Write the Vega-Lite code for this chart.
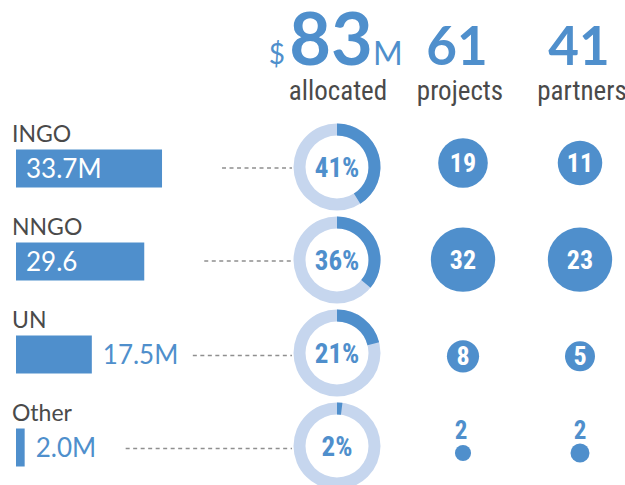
{
  "$schema": "https://vega.github.io/schema/vega-lite/v6.json",
  "width": 625,
  "height": 485,
  "padding": 0,
  "autosize": {"type": "none"},
  "background": "white",
  "config": {"view": {"stroke": null}},
  "datasets": {
    "orgs": [
      {"org": "INGO", "amount": 33.7, "amountLabel": "33.7M", "pct": 41, "pctLabel": "41%", "projects": 19, "partners": 11},
      {"org": "NNGO", "amount": 29.6, "amountLabel": "29.6", "pct": 36, "pctLabel": "36%", "projects": 32, "partners": 23},
      {"org": "UN", "amount": 17.5, "amountLabel": "17.5M", "pct": 21, "pctLabel": "21%", "projects": 8, "partners": 5},
      {"org": "Other", "amount": 2.0, "amountLabel": "2.0M", "pct": 2, "pctLabel": "2%", "projects": 2, "partners": 2}
    ],
    "headers": [
      {"col": "allocated", "total": "83"},
      {"col": "projects", "total": "61"},
      {"col": "partners", "total": "41"}
    ]
  },
  "resolve": {"scale": {"x": "independent", "y": "independent", "size": "independent", "theta": "independent"}},
  "layer": [
    {
      "data": {"name": "orgs"},
      "mark": {"type": "text", "align": "left", "baseline": "alphabetic", "dx": -4, "dy": -25, "font": "Lato", "fontSize": 23, "color": "#4a4a4a"},
      "encoding": {
        "x": {"datum": 0, "type": "quantitative", "scale": {"domain": [0, 100], "range": [16, 449.3], "nice": false}, "axis": null},
        "y": {"field": "org", "type": "nominal", "scale": {"type": "point", "domain": ["header", "INGO", "NNGO", "UN", "Other"], "range": [74, 446], "padding": 0}, "axis": null},
        "text": {"field": "org"}
      }
    },
    {
      "data": {"name": "orgs"},
      "mark": {"type": "bar", "height": 38, "color": "#4f8fcc", "yOffset": 1.5},
      "encoding": {
        "x": {"field": "amount", "type": "quantitative", "scale": {"domain": [0, 100], "range": [16, 449.3], "nice": false}, "axis": null},
        "y": {"field": "org", "type": "nominal", "scale": {"type": "point", "domain": ["header", "INGO", "NNGO", "UN", "Other"], "range": [74, 446], "padding": 0}, "axis": null}
      }
    },
    {
      "data": {"name": "orgs"},
      "transform": [{"filter": {"field": "org", "oneOf": ["INGO", "NNGO"]}}],
      "mark": {"type": "text", "align": "left", "baseline": "alphabetic", "dx": 10, "dy": 11, "font": "Lato", "fontSize": 26, "color": "white"},
      "encoding": {
        "x": {"datum": 0, "type": "quantitative", "scale": {"domain": [0, 100], "range": [16, 449.3], "nice": false}, "axis": null},
        "y": {"field": "org", "type": "nominal", "scale": {"type": "point", "domain": ["header", "INGO", "NNGO", "UN", "Other"], "range": [74, 446], "padding": 0}, "axis": null},
        "text": {"field": "amountLabel"}
      }
    },
    {
      "data": {"name": "orgs"},
      "transform": [{"filter": {"field": "org", "oneOf": ["UN", "Other"]}}],
      "mark": {"type": "text", "align": "left", "baseline": "alphabetic", "dx": 11, "dy": 11, "font": "Lato", "fontSize": 26, "color": "#4f8fcc"},
      "encoding": {
        "x": {"field": "amount", "type": "quantitative", "scale": {"domain": [0, 100], "range": [16, 449.3], "nice": false}, "axis": null},
        "y": {"field": "org", "type": "nominal", "scale": {"type": "point", "domain": ["header", "INGO", "NNGO", "UN", "Other"], "range": [74, 446], "padding": 0}, "axis": null},
        "text": {"field": "amountLabel"}
      }
    },
    {
      "data": {"name": "orgs"},
      "transform": [{"filter": {"field": "org", "oneOf": ["INGO", "NNGO"]}}],
      "mark": {"type": "rule", "color": "#8f8f8f", "strokeWidth": 1.3, "strokeDash": [4, 3.5], "xOffset": 60, "yOffset": 1},
      "encoding": {
        "x": {"field": "amount", "type": "quantitative", "scale": {"domain": [0, 100], "range": [16, 449.3], "nice": false}, "axis": null},
        "x2": {"value": 292},
        "y": {"field": "org", "type": "nominal", "scale": {"type": "point", "domain": ["header", "INGO", "NNGO", "UN", "Other"], "range": [74, 446], "padding": 0}, "axis": null}
      }
    },
    {
      "data": {"name": "orgs"},
      "transform": [{"filter": {"field": "org", "oneOf": ["UN", "Other"]}}],
      "mark": {"type": "rule", "color": "#8f8f8f", "strokeWidth": 1.3, "strokeDash": [4, 3.5], "xOffset": 101, "yOffset": 2.5},
      "encoding": {
        "x": {"field": "amount", "type": "quantitative", "scale": {"domain": [0, 100], "range": [16, 449.3], "nice": false}, "axis": null},
        "x2": {"value": 292},
        "y": {"field": "org", "type": "nominal", "scale": {"type": "point", "domain": ["header", "INGO", "NNGO", "UN", "Other"], "range": [74, 446], "padding": 0}, "axis": null}
      }
    },
    {
      "data": {"name": "orgs"},
      "mark": {"type": "arc", "innerRadius": 31.5, "outerRadius": 43.5, "theta": 0, "theta2": 6.2832, "color": "#c6d6ee"},
      "encoding": {
        "x": {"datum": "allocated", "type": "nominal", "scale": {"type": "point", "domain": ["allocated", "projects", "partners"], "range": [337, 581], "padding": 0}, "axis": null},
        "y": {"field": "org", "type": "nominal", "scale": {"type": "point", "domain": ["header", "INGO", "NNGO", "UN", "Other"], "range": [74, 446], "padding": 0}, "axis": null}
      }
    },
    {
      "data": {"name": "orgs"},
      "mark": {"type": "arc", "innerRadius": 31.5, "outerRadius": 43.5, "color": "#4f8fcc"},
      "encoding": {
        "x": {"datum": "allocated", "type": "nominal", "scale": {"type": "point", "domain": ["allocated", "projects", "partners"], "range": [337, 581], "padding": 0}, "axis": null},
        "y": {"field": "org", "type": "nominal", "scale": {"type": "point", "domain": ["header", "INGO", "NNGO", "UN", "Other"], "range": [74, 446], "padding": 0}, "axis": null},
        "theta": {"field": "pct", "type": "quantitative", "stack": null, "scale": {"domain": [0, 100], "range": [0, 6.2832]}},
        "theta2": {"datum": 0}
      }
    },
    {
      "data": {"name": "orgs"},
      "mark": {"type": "text", "align": "center", "baseline": "alphabetic", "dy": 10, "font": "Noto Sans Condensed, Roboto Condensed, Roboto, sans-serif", "fontWeight": "bold", "fontSize": 27, "color": "#4f8fcc"},
      "encoding": {
        "x": {"datum": "allocated", "type": "nominal", "scale": {"type": "point", "domain": ["allocated", "projects", "partners"], "range": [337, 581], "padding": 0}, "axis": null},
        "y": {"field": "org", "type": "nominal", "scale": {"type": "point", "domain": ["header", "INGO", "NNGO", "UN", "Other"], "range": [74, 446], "padding": 0}, "axis": null},
        "text": {"field": "pctLabel"}
      }
    },
    {
      "data": {"name": "headers"},
      "transform": [{"filter": {"field": "col", "equal": "allocated"}}],
      "mark": {"type": "text", "align": "center", "baseline": "alphabetic", "dx": -6, "dy": -9, "font": "Lato", "fontWeight": "bold", "fontSize": 72, "color": "#4f8fcc"},
      "encoding": {
        "x": {"field": "col", "type": "nominal", "scale": {"type": "point", "domain": ["allocated", "projects", "partners"], "range": [337, 581], "padding": 0}, "axis": null},
        "y": {"datum": "header", "type": "nominal", "scale": {"type": "point", "domain": ["header", "INGO", "NNGO", "UN", "Other"], "range": [74, 446], "padding": 0}, "axis": null},
        "text": {"field": "total"}
      }
    },
    {
      "data": {"name": "headers"},
      "transform": [{"filter": {"field": "col", "oneOf": ["projects", "partners"]}}],
      "mark": {"type": "text", "align": "center", "baseline": "alphabetic", "dx": -2, "dy": -9, "font": "Lato", "fontWeight": "bold", "fontSize": 53, "color": "#4f8fcc"},
      "encoding": {
        "x": {"field": "col", "type": "nominal", "scale": {"type": "point", "domain": ["allocated", "projects", "partners"], "range": [337, 581], "padding": 0}, "axis": null},
        "y": {"datum": "header", "type": "nominal", "scale": {"type": "point", "domain": ["header", "INGO", "NNGO", "UN", "Other"], "range": [74, 446], "padding": 0}, "axis": null},
        "text": {"field": "total"}
      }
    },
    {
      "data": {"name": "headers"},
      "transform": [{"filter": {"field": "col", "equal": "allocated"}}],
      "mark": {"type": "text", "align": "right", "baseline": "alphabetic", "dx": -52, "dy": -10, "font": "Lato", "fontSize": 28, "color": "#4f8fcc", "text": "$"},
      "encoding": {
        "x": {"field": "col", "type": "nominal", "scale": {"type": "point", "domain": ["allocated", "projects", "partners"], "range": [337, 581], "padding": 0}, "axis": null},
        "y": {"datum": "header", "type": "nominal", "scale": {"type": "point", "domain": ["header", "INGO", "NNGO", "UN", "Other"], "range": [74, 446], "padding": 0}, "axis": null}
      }
    },
    {
      "data": {"name": "headers"},
      "transform": [{"filter": {"field": "col", "equal": "allocated"}}],
      "mark": {"type": "text", "align": "left", "baseline": "alphabetic", "dx": 36, "dy": -9, "font": "Lato", "fontSize": 32, "color": "#4f8fcc", "text": "M"},
      "encoding": {
        "x": {"field": "col", "type": "nominal", "scale": {"type": "point", "domain": ["allocated", "projects", "partners"], "range": [337, 581], "padding": 0}, "axis": null},
        "y": {"datum": "header", "type": "nominal", "scale": {"type": "point", "domain": ["header", "INGO", "NNGO", "UN", "Other"], "range": [74, 446], "padding": 0}, "axis": null}
      }
    },
    {
      "data": {"name": "headers"},
      "mark": {"type": "text", "align": "center", "baseline": "alphabetic", "dx": 1, "dy": 26, "font": "Noto Sans Condensed, Roboto Condensed, Roboto, sans-serif", "fontSize": 27, "color": "#4a4a4a"},
      "encoding": {
        "x": {"field": "col", "type": "nominal", "scale": {"type": "point", "domain": ["allocated", "projects", "partners"], "range": [337, 581], "padding": 0}, "axis": null},
        "y": {"datum": "header", "type": "nominal", "scale": {"type": "point", "domain": ["header", "INGO", "NNGO", "UN", "Other"], "range": [74, 446], "padding": 0}, "axis": null},
        "text": {"field": "col"}
      }
    },
    {
      "data": {"name": "orgs"},
      "mark": {"type": "circle", "opacity": 1, "color": "#4f8fcc", "xOffset": 4},
      "encoding": {
        "x": {"datum": "projects", "type": "nominal", "scale": {"type": "point", "domain": ["allocated", "projects", "partners"], "range": [337, 581], "padding": 0}, "axis": null},
        "y": {"field": "org", "type": "nominal", "scale": {"type": "point", "domain": ["INGO", "NNGO", "UN", "Other"], "range": [163, 453], "padding": 0}, "axis": null},
        "size": {"field": "projects", "type": "quantitative", "scale": {"domain": [0, 32], "range": [0, 4140], "zero": true}, "legend": null}
      }
    },
    {
      "data": {"name": "orgs"},
      "mark": {"type": "circle", "opacity": 1, "color": "#4f8fcc", "xOffset": -1},
      "encoding": {
        "x": {"datum": "partners", "type": "nominal", "scale": {"type": "point", "domain": ["allocated", "projects", "partners"], "range": [337, 581], "padding": 0}, "axis": null},
        "y": {"field": "org", "type": "nominal", "scale": {"type": "point", "domain": ["INGO", "NNGO", "UN", "Other"], "range": [163, 453], "padding": 0}, "axis": null},
        "size": {"field": "partners", "type": "quantitative", "scale": {"domain": [0, 23], "range": [0, 4140], "zero": true}, "legend": null}
      }
    },
    {
      "data": {"name": "orgs"},
      "transform": [{"filter": {"not": {"field": "org", "equal": "Other"}}}],
      "mark": {"type": "text", "align": "center", "baseline": "alphabetic", "dx": 4, "dy": 9, "font": "Noto Sans Condensed, Roboto Condensed, Roboto, sans-serif", "fontWeight": "bold", "fontSize": 26, "color": "white"},
      "encoding": {
        "x": {"datum": "projects", "type": "nominal", "scale": {"type": "point", "domain": ["allocated", "projects", "partners"], "range": [337, 581], "padding": 0}, "axis": null},
        "y": {"field": "org", "type": "nominal", "scale": {"type": "point", "domain": ["INGO", "NNGO", "UN", "Other"], "range": [163, 453], "padding": 0}, "axis": null},
        "text": {"field": "projects"}
      }
    },
    {
      "data": {"name": "orgs"},
      "transform": [{"filter": {"not": {"field": "org", "equal": "Other"}}}],
      "mark": {"type": "text", "align": "center", "baseline": "alphabetic", "dx": -1, "dy": 9, "font": "Noto Sans Condensed, Roboto Condensed, Roboto, sans-serif", "fontWeight": "bold", "fontSize": 26, "color": "white"},
      "encoding": {
        "x": {"datum": "partners", "type": "nominal", "scale": {"type": "point", "domain": ["allocated", "projects", "partners"], "range": [337, 581], "padding": 0}, "axis": null},
        "y": {"field": "org", "type": "nominal", "scale": {"type": "point", "domain": ["INGO", "NNGO", "UN", "Other"], "range": [163, 453], "padding": 0}, "axis": null},
        "text": {"field": "partners"}
      }
    },
    {
      "data": {"name": "orgs"},
      "transform": [{"filter": {"field": "org", "equal": "Other"}}],
      "mark": {"type": "text", "align": "center", "baseline": "alphabetic", "dx": 2, "dy": -14, "font": "Noto Sans Condensed, Roboto Condensed, Roboto, sans-serif", "fontWeight": "bold", "fontSize": 25, "color": "#4f8fcc"},
      "encoding": {
        "x": {"datum": "projects", "type": "nominal", "scale": {"type": "point", "domain": ["allocated", "projects", "partners"], "range": [337, 581], "padding": 0}, "axis": null},
        "y": {"field": "org", "type": "nominal", "scale": {"type": "point", "domain": ["INGO", "NNGO", "UN", "Other"], "range": [163, 453], "padding": 0}, "axis": null},
        "text": {"field": "projects"}
      }
    },
    {
      "data": {"name": "orgs"},
      "transform": [{"filter": {"field": "org", "equal": "Other"}}],
      "mark": {"type": "text", "align": "center", "baseline": "alphabetic", "dx": -1, "dy": -14, "font": "Noto Sans Condensed, Roboto Condensed, Roboto, sans-serif", "fontWeight": "bold", "fontSize": 25, "color": "#4f8fcc"},
      "encoding": {
        "x": {"datum": "partners", "type": "nominal", "scale": {"type": "point", "domain": ["allocated", "projects", "partners"], "range": [337, 581], "padding": 0}, "axis": null},
        "y": {"field": "org", "type": "nominal", "scale": {"type": "point", "domain": ["INGO", "NNGO", "UN", "Other"], "range": [163, 453], "padding": 0}, "axis": null},
        "text": {"field": "partners"}
      }
    }
  ]
}
